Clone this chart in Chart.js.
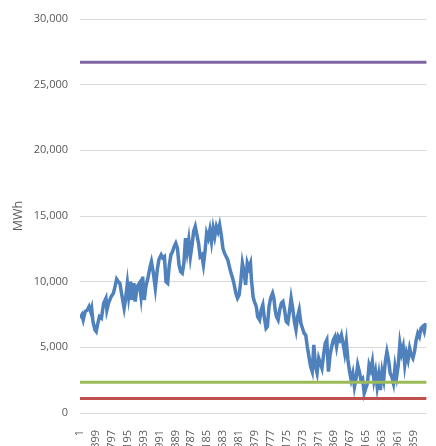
<!DOCTYPE html>
<html>
<head>
<meta charset="utf-8">
<script src="https://cdn.jsdelivr.net/npm/chart.js@4"></script>
<style>
  html, body { margin:0; padding:0; background:#fff; overflow:hidden; }
  #wrap { width:436px; height:446px; overflow:hidden; }
</style>
</head>
<body>
<div id="wrap"><canvas id="c" width="436" height="460"></canvas></div>
<script>
// hour of year -> MWh
const hours = [1, 49, 81, 130, 187, 228, 268, 293, 326, 375, 407, 439, 488, 537, 594, 651, 675, 716, 781, 838,
  878, 919, 960, 1000, 1041, 1106, 1138, 1187, 1220, 1269, 1301, 1350, 1383, 1431, 1488, 1529, 1570, 1610, 1651, 1708,
  1757, 1789, 1838, 1887, 1936, 1976, 2033, 2074, 2115, 2155, 2196, 2237, 2277, 2318, 2359, 2399, 2440, 2481, 2521, 2562,
  2603, 2643, 2684, 2725, 2765, 2806, 2847, 2887, 2928, 2969, 3009, 3050, 3091, 3131, 3172, 3213, 3253, 3294, 3335, 3375,
  3416, 3457, 3497, 3538, 3579, 3619, 3660, 3701, 3741, 3782, 3823, 3863, 3904, 3945, 3985, 4026, 4067, 4107, 4148, 4189,
  4229, 4270, 4294, 4335, 4368, 4416, 4449, 4498, 4538, 4579, 4612, 4660, 4693, 4734, 4774, 4823, 4856, 4888, 4921, 4962,
  5002, 5043, 5083, 5124, 5165, 5205, 5246, 5287, 5327, 5368, 5409, 5449, 5490, 5531, 5571, 5612, 5653, 5693, 5734, 5775,
  5815, 5856, 5897, 5937, 5978, 6019, 6059, 6100, 6141, 6181, 6222, 6263, 6303, 6344, 6385, 6425, 6466, 6507, 6547, 6588,
  6629, 6669, 6710, 6751, 6791, 6832, 6873, 6913, 6954, 6995, 7035, 7076, 7117, 7157, 7198, 7239, 7279, 7320, 7361, 7401,
  7442, 7483, 7523, 7564, 7605, 7645, 7686, 7727, 7767, 7808, 7849, 7889, 7930, 7971, 8011, 8052, 8093, 8133, 8174, 8215,
  8255, 8296, 8337, 8377, 8418, 8459, 8499, 8540, 8581, 8621, 8662];
const mwh = [7220, 7470, 7090, 7720, 7850, 8100, 7720, 7980, 6960, 6330, 6200, 6710, 7340, 7220, 8360, 8740, 7850, 8360, 8860, 9120,
  9620, 10190, 10000, 9880, 9120, 7980, 8610, 9880, 8860, 10000, 8610, 9880, 8480, 9620, 9880, 8860, 10390, 8610, 9620, 10390,
  11150, 11530, 10650, 9500, 10900, 11660, 12040, 11800, 11910, 10000, 9880, 11280, 12040, 12290, 12670, 12930, 12550, 11280, 10770, 10650,
  11410, 13310, 12290, 13180, 11910, 12800, 13820, 14200, 13560, 12930, 11910, 12040, 11280, 12290, 13690, 13310, 13950, 13050, 14070, 13430,
  14200, 13820, 14330, 13560, 12550, 12170, 11910, 11660, 11150, 10650, 10260, 9750, 9120, 8740, 8990, 10000, 11410, 10770, 9750, 11410,
  11030, 11400, 10140, 8860, 8480, 8100, 7340, 7090, 7850, 8230, 7340, 6450, 6580, 8100, 8740, 9120, 8740, 7850, 7340, 7090,
  7850, 8360, 8480, 7850, 6960, 6840, 7720, 8740, 7980, 6960, 6330, 7340, 7850, 6840, 6450, 6070, 5940, 5050, 4290, 3530,
  3150, 5180, 3530, 3030, 4170, 3790, 3410, 4420, 5310, 5560, 3150, 4420, 5050, 5560, 5810, 5050, 5810, 5560, 5940, 5310,
  4550, 5430, 4040, 3150, 2520, 3030, 2000, 2640, 3660, 3150, 2520, 2640, 1500, 1880, 2260, 3660, 3280, 3910, 2520, 3150,
  2000, 2900, 1750, 3150, 2520, 3910, 4670, 4040, 3030, 2770, 2260, 3530, 2770, 3660, 5310, 4550, 5050, 3660, 4550, 4040,
  4930, 4420, 4170, 4670, 5560, 6070, 5810, 6450, 6580, 6200, 6840];

// flat reference levels
const refNames = ['Max', 'Min A', 'Min B'];
const refValues = [26700, 2350, 1100];
const refColors = ['#8064A2', '#9BBB59', '#C0504D'];

const tickLabels = [1, 399, 797, 1195, 1593, 1991, 2389, 2787, 3185, 3583, 3981, 4379, 4777, 5175, 5573,
  5971, 6369, 6767, 7165, 7563, 7961, 8359];
const xMin = 1, xMax = 8680;

const datasets = refValues.map((v, i) => ({
    label: refNames[i],
    data: [{ x: xMin, y: v }, { x: xMax, y: v }],
    borderColor: refColors[i],
    borderWidth: 3,
    pointRadius: 0,
    order: 0
}));
datasets.push({
    label: 'MWh',
    data: hours.map((h, i) => ({ x: h, y: mwh[i] })),
    borderColor: '#4F81BD',
    borderWidth: 3.5,
    pointRadius: 0,
    tension: 0,
    order: 10
});

const txt = '#595959';
const font = { family: "'Open Sans', 'Liberation Sans', sans-serif", size: 11 };

new Chart(document.getElementById('c').getContext('2d'), {
    type: 'line',
    data: { datasets },
    options: {
        responsive: false,
        animation: false,
        devicePixelRatio: 1,
        layout: { padding: { top: 19, right: 0, bottom: 0, left: 0 } },
        plugins: { legend: { display: false }, tooltip: { enabled: false } },
        scales: {
            x: {
                type: 'linear',
                min: xMin, max: xMax,
                grid: { display: false },
                border: { display: false },
                afterBuildTicks: s => { s.ticks = tickLabels.map(v => ({ value: v })); },
                afterFit: s => { s.height = 47; },
                ticks: {
                    autoSkip: false, minRotation: 90, maxRotation: 90,
                    padding: 9, color: txt, font,
                    callback: v => String(v)
                }
            },
            y: {
                min: 0, max: 30000,
                grid: { color: '#d9d9d9', drawTicks: false },
                border: { display: false },
                afterFit: s => { s.width = 80; },
                ticks: {
                    stepSize: 5000, padding: 12, color: txt, font,
                    callback: v => v.toLocaleString('en-US')
                },
                title: {
                    display: true, text: 'MWh', color: txt,
                    font: { family: font.family, size: 12.5 },
                    padding: { top: 11, bottom: 0 }
                }
            }
        }
    }
});
</script>
</body>
</html>
